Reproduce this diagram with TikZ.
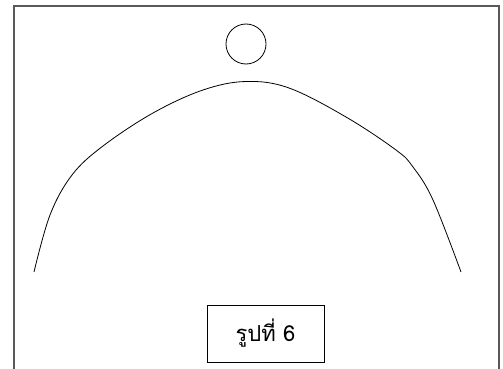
\documentclass[tikz,border=0pt]{standalone}
\usepackage{fontspec}
\newfontfamily\thaifont[Script=Thai]{Loma}
\begin{document}
\begin{tikzpicture}[x=1pt,y=-1pt,line width=0.8pt]
	\useasboundingbox (0,0) rectangle (503,369);
	\draw[gray!70!black,line width=1.2pt] (14,369)--(14,6)--(499,6)--(499,369);
	\node[draw,circle,minimum size=40pt,inner sep=0pt] (ball) at (246,44) {};
	\draw plot[smooth,tension=0.6] coordinates {(34,272) (50,215) (72,175) (103,146) (153,113) (203,90) (246,81.5)
		(289,88) (346,117) (396,150) (413,167) (433,200) (461,272)};
	\node[draw,minimum width=117pt,minimum height=57pt,font=\thaifont\fontsize{22}{24}\selectfont] (caption) at (265.5,333.5) {รูปที่ 6};
\end{tikzpicture}
\end{document}
